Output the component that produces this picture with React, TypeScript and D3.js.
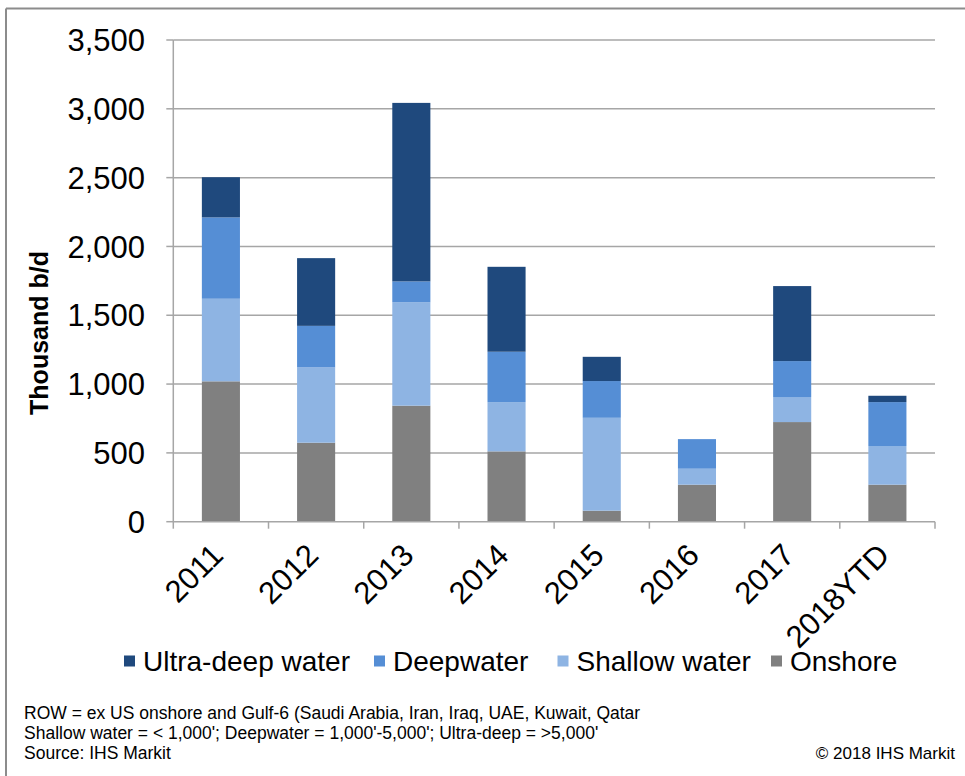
import React from "react";
import * as d3 from "d3";

const categories = ["2011", "2012", "2013", "2014", "2015", "2016", "2017", "2018YTD"];
const seriesNames = ["Onshore", "Shallow water", "Deepwater", "Ultra-deep water"];
const onshore = [1020, 574, 843, 511, 80, 269, 724, 269];
const shallow = [600, 547, 752, 358, 675, 116, 182, 281];
const deepwater = [591, 302, 151, 366, 267, 215, 261, 319];
const ultradeep = [292, 492, 1297, 617, 176, 0, 545, 46];
const yTicks = [0, 500, 1000, 1500, 2000, 2500, 3000, 3500];
const legendOrder = ["Ultra-deep water", "Deepwater", "Shallow water", "Onshore"];
const colors: Record<string, string> = {
  "Ultra-deep water": "#1F497D",
  Deepwater: "#558ED5",
  "Shallow water": "#8EB4E3",
  Onshore: "#808080",
};
const footerLines = [
  "ROW = ex US onshore and Gulf-6 (Saudi Arabia, Iran, Iraq, UAE, Kuwait, Qatar",
  "Shallow water = < 1,000'; Deepwater = 1,000'-5,000'; Ultra-deep = >5,000'",
  "Source: IHS Markit",
];
const copyright = "© 2018 IHS Markit";

const FONT = "'Liberation Sans', Arial, sans-serif";

export default function App() {
  const W = 965;
  const H = 776;
  const left = 173.3;
  const right = 935;
  const top = 40;
  const bottom = 521.7;

  const rows = categories.map((c, i) => ({
    cat: c,
    Onshore: onshore[i],
    "Shallow water": shallow[i],
    Deepwater: deepwater[i],
    "Ultra-deep water": ultradeep[i],
  }));
  const stack = d3.stack<any>().keys(seriesNames)(rows);

  const x = d3.scaleBand<string>().domain(categories).range([left, right]).paddingInner(0.6).paddingOuter(0.3);
  const xb = d3.scaleBand<string>().domain(categories).range([left, right]);
  const y = d3.scaleLinear().domain([0, 3500]).range([bottom, top]);

  const grid = "#A6A6A6";
  const legendX = [124, 374, 557.5, 771];

  return (
    <svg width={W} height={H} style={{ position: "absolute", left: 0, top: 0, background: "#fff" }} fontFamily={FONT}>
      <rect x={0} y={0} width={W} height={H} fill="#fff" />
      {/* border */}
      <line x1={6} y1={8.5} x2={W} y2={8.5} stroke="#8C8C8C" strokeWidth={2} />
      <line x1={6} y1={8.5} x2={6} y2={H} stroke="#8C8C8C" strokeWidth={2} />

      {/* gridlines */}
      {yTicks.map((t) => (
        <g key={t}>
          {t > 0 && <line x1={left} x2={right} y1={y(t)} y2={y(t)} stroke={grid} strokeWidth={1.5} />}
          <line x1={left - 7} x2={left} y1={y(t)} y2={y(t)} stroke={grid} strokeWidth={1.5} />
          <text x={145} y={y(t)} dy="0.36em" textAnchor="end" fontSize={31} fill="#000">
            {d3.format(",")(t)}
          </text>
        </g>
      ))}

      {/* bars */}
      {stack.map((s) => (
        <g key={s.key} fill={colors[s.key]}>
          {s.map((d, i) =>
            d[1] - d[0] > 0 ? (
              <rect
                key={i}
                x={x(categories[i])!}
                width={x.bandwidth()}
                y={y(d[1])}
                height={y(d[0]) - y(d[1])}
              />
            ) : null
          )}
        </g>
      ))}

      {/* axes */}
      <line x1={left} x2={left} y1={top} y2={bottom} stroke={grid} strokeWidth={1.5} />
      <line x1={left} x2={right} y1={bottom} y2={bottom} stroke={grid} strokeWidth={1.5} />
      {categories.map((c) => (
        <line key={c} x1={xb(c)!} x2={xb(c)!} y1={bottom} y2={bottom + 7} stroke={grid} strokeWidth={1.5} />
      ))}
      <line x1={right} x2={right} y1={bottom} y2={bottom + 7} stroke={grid} strokeWidth={1.5} />

      {categories.map((c) => {
        const cx = xb(c)! + xb.bandwidth() / 2;
        return (
          <text key={c} transform={`translate(${cx + 4},${557}) rotate(-45)`} textAnchor="end" fontSize={31} fill="#000">
            {c}
          </text>
        );
      })}

      {/* y title */}
      <text transform={`translate(48,333) rotate(-90)`} textAnchor="middle" fontSize={25} fontWeight="bold" fill="#000">
        Thousand b/d
      </text>

      {/* legend */}
      {legendOrder.map((k, i) => (
        <g key={k}>
          <rect x={legendX[i]} y={655.5} width={11} height={11} fill={colors[k]} />
          <text x={legendX[i] + 19} y={671} fontSize={28} fill="#000">
            {k}
          </text>
        </g>
      ))}

      {/* footer */}
      {footerLines.map((l, i) => (
        <text key={i} x={24} y={719 + i * 20} fontSize={17.5} fill="#000">
          {l}
        </text>
      ))}
      <text x={955} y={759} textAnchor="end" fontSize={17} fill="#000">
        {copyright}
      </text>
    </svg>
  );
}
